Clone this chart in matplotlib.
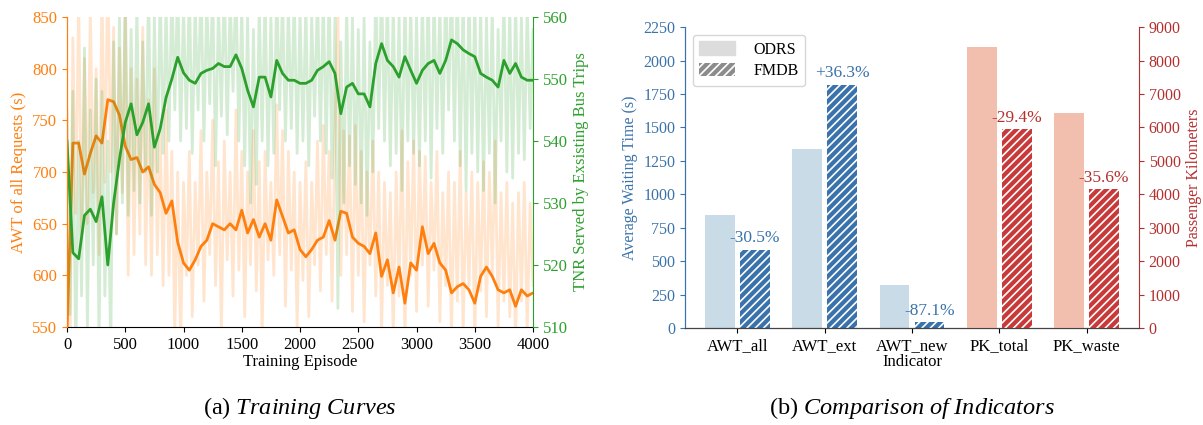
import matplotlib
matplotlib.use("Agg")
from matplotlib import pyplot as plt
import numpy as np

plt.rcParams['font.family'] = ['Liberation Serif', 'DejaVu Serif']
plt.rcParams['mathtext.fontset'] = 'custom'
plt.rcParams['mathtext.rm'] = 'Liberation Serif'
plt.rcParams['mathtext.it'] = 'Liberation Serif:italic'
plt.rcParams['hatch.color'] = 'white'
plt.rcParams['hatch.linewidth'] = 1.2

# training curves, smoothed (every 50 episodes)
smooth_ep = list(range(0, 4001, 50))
awt_smooth = [545, 728, 728, 698, 718, 735, 728, 770, 768, 755, 725, 712, 714, 700, 705, 688, 680, 660, 672, 632, 612,
              605, 615, 628, 634, 650, 647, 644, 650, 644, 663, 641, 654, 637, 650, 634, 673, 657, 641, 644, 625,
              618, 625, 634, 637, 653, 634, 662, 660, 637, 631, 628, 621, 641, 599, 615, 583, 608, 573, 612, 605,
              647, 621, 631, 612, 605, 583, 589, 592, 586, 573, 599, 608, 599, 586, 583, 586, 570, 586, 580, 583]
tnr_smooth = [540, 522, 521, 528, 529, 527, 531, 520, 530, 537, 543, 546, 541, 543, 546, 539, 542, 547, 550, 553.5, 551,
              549.8, 549.3, 550.9, 551.4, 551.7, 552.5, 552.0, 552.0, 553.9, 551.7, 548.2, 545.5, 550.3, 550.3, 547.1, 553.0, 550.9, 549.8, 549.8, 549.3,
              549.3, 549.8, 551.4, 552.0, 552.8, 550.9, 544.4, 548.7, 549.3, 547.6, 547.6, 545.5, 552.5, 555.7, 553.0, 552.0, 550.3, 553.6, 551.4, 549.3,
              551.4, 552.5, 553.0, 550.9, 553.0, 556.3, 555.7, 554.7, 554.1, 553.6, 550.9, 550.3, 549.8, 548.7, 553.0, 550.9, 552.5, 550.3, 549.8, 549.8]

# raw curves (every 25 episodes)
raw_ep = list(range(0, 4001, 25))
awt_raw = [540, 500, 830, 660, 870, 640, 810, 650, 860, 680, 800, 620, 880, 690, 900, 700, 840, 640, 820, 680,
           860, 600, 800, 620, 790, 640, 840, 610, 770, 600, 800, 620, 740, 590, 760, 600, 720, 540, 700, 530,
           690, 600, 720, 560, 690, 610, 740, 575, 700, 620, 750, 590, 710, 545, 730, 615, 700, 580, 760, 605,
           720, 560, 700, 610, 740, 585, 710, 540, 720, 615, 690, 600, 765, 620, 740, 570, 720, 605, 700, 550,
           690, 595, 710, 560, 690, 610, 730, 585, 745, 620, 720, 575, 740, 860, 600, 740, 620, 735, 565, 745,
           600, 720, 555, 700, 610, 730, 580, 700, 545, 690, 590, 680, 540, 700, 580, 740, 535, 710, 600, 730,
           565, 720, 610, 715, 570, 690, 605, 720, 555, 680, 590, 700, 540, 690, 575, 720, 545, 680, 590, 700,
           535, 690, 585, 710, 560, 700, 600, 730, 550, 680, 575, 690, 560, 670, 535, 680, 575, 690, 545, 670,
           590]
tnr_raw = [545, 512, 548, 505, 540, 515, 555, 510, 545, 520, 550, 508, 548, 515, 540, 505, 556, 525, 560, 530,
           565, 528, 558, 532, 562, 530, 556, 535, 565, 528, 560, 535, 565, 538, 562, 540, 565, 545, 566, 540,
           562, 542, 565, 538, 562, 545, 566, 540, 563, 546, 565, 536, 562, 544, 566, 541, 563, 548, 566, 540,
           562, 536, 560, 530, 558, 533, 562, 540, 564, 536, 560, 538, 565, 545, 563, 540, 562, 542, 564, 538,
           561, 540, 562, 536, 560, 544, 564, 540, 563, 538, 565, 534, 560, 513, 556, 530, 562, 536, 560, 533,
           558, 530, 560, 528, 556, 535, 565, 542, 566, 540, 564, 536, 562, 538, 560, 532, 564, 540, 562, 538,
           560, 536, 563, 540, 565, 534, 564, 542, 562, 538, 566, 545, 567, 540, 566, 536, 564, 532, 565, 538,
           563, 535, 562, 532, 560, 538, 562, 530, 558, 540, 564, 535, 562, 534, 563, 538, 560, 537, 562, 542,
           558]

# indicator comparison
indicators = ['AWT_all', 'AWT_ext', 'AWT_new', 'PK_total', 'PK_waste']
odrs = [845, 1335, 325, 8420, 6440]
fmdb = [587, 1820, 42, 5945, 4147]
changes = ['-30.5%', '+36.3%', '-87.1%', '-29.4%', '-35.6%']

orange = '#ff7f0e'
green = '#2ca02c'
blue = '#3a73ab'
red = '#b52f2f'

fig = plt.figure(figsize=(12.03, 4.25), dpi=100)

# (a) training curves
ax1 = fig.add_axes([0.0557, 0.2306, 0.3874, 0.7294])
ax2 = ax1.twinx()
ax1.plot(raw_ep, awt_raw, color=orange, alpha=0.2, lw=2)
ax1.plot(smooth_ep, awt_smooth, color=orange, lw=2)
ax2.plot(raw_ep, tnr_raw, color=green, alpha=0.2, lw=2)
ax2.plot(smooth_ep, tnr_smooth, color=green, lw=2)

ax1.set_xlim(0, 4000)
ax1.set_ylim(550, 850)
ax2.set_ylim(510, 560)
ax1.set_xticks(range(0, 4001, 500))
ax1.set_yticks(range(550, 851, 50))
ax2.set_yticks(range(510, 561, 10))
ax1.set_xlabel('Training Episode', fontsize=12, labelpad=1)
ax1.set_ylabel('AWT of all Requests (s)', color=orange, fontsize=12, labelpad=4)
ax2.set_ylabel('TNR Served by Exsisting Bus Trips', color=green, fontsize=12, labelpad=4)
ax1.tick_params(axis='y', colors=orange, labelsize=12)
ax1.tick_params(axis='x', labelsize=12)
ax2.tick_params(axis='y', colors=green, labelsize=12)
for a in (ax1, ax2):
    a.spines['top'].set_visible(False)
ax1.spines['right'].set_visible(False)
ax2.spines['left'].set_color(orange)
ax2.spines['right'].set_color(green)
ax1.spines['left'].set_color(orange)
ax2.spines['bottom'].set_visible(False)

# (b) comparison of indicators
bx1 = fig.add_axes([0.5694, 0.2282, 0.3774, 0.708])
bx2 = bx1.twinx()
x = np.arange(len(indicators))
w = 0.34
light = ['#c9dbe7'] * 3 + ['#f2beae'] * 2
dark = [blue] * 3 + ['#c83a3a'] * 2
for i in range(len(indicators)):
    ax = bx1 if i < 3 else bx2
    ax.bar(x[i] - 0.2, odrs[i], w, color=light[i])
    ax.bar(x[i] + 0.2, fmdb[i], w, color=dark[i], hatch='////', edgecolor='white', lw=0)
    ax.text(x[i] + 0.2, fmdb[i] + (25 if i < 3 else 100), changes[i], ha='center', va='bottom',
            color=blue if i < 3 else red, fontsize=12.5)

bx1.set_xlim(-0.6, 4.6)
bx1.set_ylim(0, 2250)
bx2.set_ylim(0, 9000)
bx1.set_yticks(range(0, 2251, 250))
bx2.set_yticks(range(0, 9001, 1000))
bx1.set_xticks(x)
bx1.set_xticklabels(indicators, fontsize=12)
bx1.set_xlabel('Indicator', fontsize=12, labelpad=0)
bx1.set_ylabel('Average Waiting Time (s)', color=blue, fontsize=11.5)
bx2.set_ylabel('Passenger Kilometers', color=red, fontsize=11.5)
bx1.tick_params(axis='y', colors=blue, labelsize=11.5)
bx2.tick_params(axis='y', colors=red, labelsize=11.5)
for a in (bx1, bx2):
    a.spines['top'].set_visible(False)
bx1.spines['right'].set_visible(False)
bx2.spines['left'].set_color(blue)
bx1.spines['left'].set_color(blue)
bx2.spines['right'].set_color(red)
bx2.spines['bottom'].set_color('#444444')

h1 = plt.Rectangle((0, 0), 1, 1, color='#dcdcdc')
h2 = plt.Rectangle((0, 0), 1, 1, facecolor='#8c8c8c', hatch='////', edgecolor='white', lw=0)
bx1.legend([h1, h2], ['ODRS', 'FMDB'], loc='upper left', fontsize=11.5, handlelength=2.2, handleheight=0.9,
           borderpad=0.4, labelspacing=0.35, handletextpad=1.2, bbox_to_anchor=(0.0, 1.0))

fig.text(0.2494, 0.04, r'(a) $\mathit{Training\ Curves}$', ha='center', va='center', fontsize=17.5)
fig.text(0.7581, 0.04, r'(b) $\mathit{Comparison\ of\ Indicators}$', ha='center', va='center', fontsize=17.5)

fig.savefig('out.png', dpi=100)
